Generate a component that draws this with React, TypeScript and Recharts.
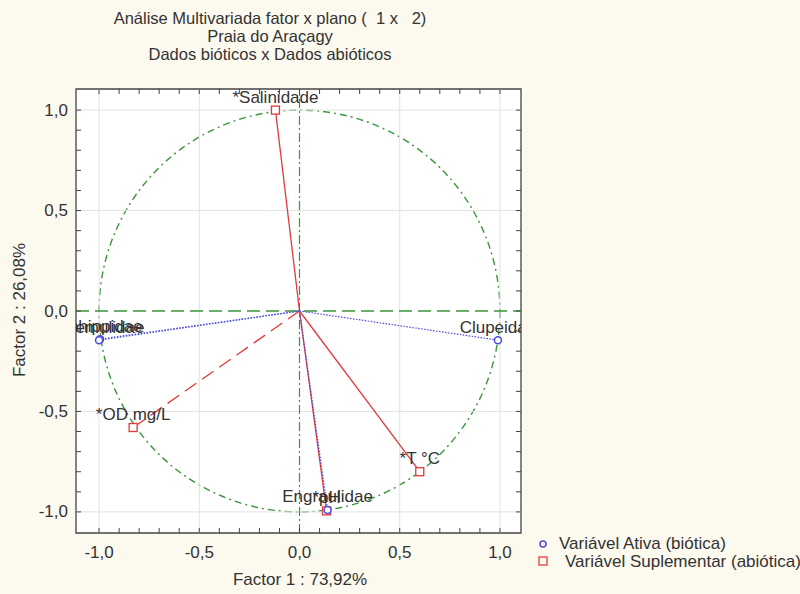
import React from 'react'
import { ScatterChart, Scatter, XAxis, YAxis, ReferenceLine, ReferenceArea, CartesianGrid } from 'recharts'

// active (biotic) variables: factor coordinates
const ACTIVE_NAMES = ['Ephippidae', 'Haemulidae', 'Clupeidae', 'Engraulidae']
const ACTIVE_F1 = [-0.995, -1.0, 0.99, 0.14]
const ACTIVE_F2 = [-0.14, -0.145, -0.145, -0.99]

// supplementary (abiotic) variables
const SUPP_NAMES = ['*Salinidade', '*OD mg/L', '*T °C', '*pH']
const SUPP_F1 = [-0.12, -0.83, 0.6, 0.135]
const SUPP_F2 = [1.0, -0.58, -0.8, -0.995]
const SUPP_DASHED = [false, true, false, false]

const X_TICKS = [-1.0, -0.9, -0.8, -0.7, -0.6, -0.5, -0.4, -0.3, -0.2, -0.1, 0.0, 0.1, 0.2, 0.3, 0.4, 0.5, 0.6, 0.7, 0.8, 0.9, 1.0]
const Y_TICKS = [-1.0, -0.9, -0.8, -0.7, -0.6, -0.5, -0.4, -0.3, -0.2, -0.1, 0.0, 0.1, 0.2, 0.3, 0.4, 0.5, 0.6, 0.7, 0.8, 0.9, 1.0]
const GRID_VALUES = [-1.0, -0.5, 0.5, 1.0]

const X_DOMAIN: [number, number] = [-1.115, 1.105]
const Y_DOMAIN: [number, number] = [-1.105, 1.105]

const TITLE = ['Análise Multivariada fator x plano (  1 x   2)', 'Praia do Araçagy', 'Dados bióticos x Dados abióticos']

// layout
const W = 800, H = 594
const PLOT_L = 76, PLOT_T = 89, PLOT_R = 521, PLOT_B = 533
const PLOT_W = PLOT_R - PLOT_L, PLOT_H = PLOT_B - PLOT_T

const CREAM = '#fcf9ee'
const TEXT = '#333'
const GREEN = '#3a963a'
const BLUE = '#4b4bdc'
const RED = '#e23a3a'
const FONT = '"Liberation Sans", Arial, sans-serif'

const fmt = (v: number) => v.toFixed(1).replace('.', ',')
const isMajor = (v: number) => Math.abs(v * 2 - Math.round(v * 2)) < 1e-6

// ticks point inward on all four sides, labels only every 0.5
function XTick(props: any) {
  const { payload } = props
  const x = payload.coordinate
  const v = payload.value
  return (
    <g>
      <line x1={x} x2={x} y1={PLOT_B} y2={PLOT_B - 5} stroke="#444" />
      <line x1={x} x2={x} y1={PLOT_T} y2={PLOT_T + 5} stroke="#444" />
      {isMajor(v) && (
        <text x={x} y={PLOT_B + 19} textAnchor="middle" dominantBaseline="central" fontSize={17} fontFamily={FONT} fill={TEXT}>{fmt(v)}</text>
      )}
    </g>
  )
}

function YTick(props: any) {
  const { payload } = props
  const y = payload.coordinate
  const v = payload.value
  return (
    <g>
      <line x1={PLOT_L} x2={PLOT_L + 5} y1={y} y2={y} stroke="#444" />
      <line x1={PLOT_R} x2={PLOT_R - 5} y1={y} y2={y} stroke="#444" />
      {isMajor(v) && (
        <text x={PLOT_L - 8} y={y} textAnchor="end" dominantBaseline="central" fontSize={17} fontFamily={FONT} fill={TEXT}>{fmt(v)}</text>
      )}
    </g>
  )
}

function PointLabel({ cx, cy, name }: { cx: number, cy: number, name: string }) {
  const id = 'clip-' + name.replace(/[^a-zA-Z]/g, '')
  return (
    <g>
      <defs>
        <clipPath id={id}><rect x={PLOT_L} y={PLOT_T} width={PLOT_W} height={PLOT_H} /></clipPath>
      </defs>
      <text x={cx} y={cy - 13} textAnchor="middle" dominantBaseline="central" fontSize={17} fontFamily={FONT} fill={TEXT} clipPath={`url(#${id})`}>{name}</text>
    </g>
  )
}

const ActiveShape = (p: any) => (
  <g>
    <circle cx={p.cx} cy={p.cy} r={3.5} fill="#fff" stroke={BLUE} strokeWidth={1.5} />
    <PointLabel cx={p.cx} cy={p.cy} name={p.payload.name} />
  </g>
)

const SuppShape = (p: any) => (
  <g>
    <rect x={p.cx - 4} y={p.cy - 4} width={8} height={8} fill="#fff" stroke={RED} strokeWidth={1.3} />
    <PointLabel cx={p.cx} cy={p.cy} name={p.payload.name} />
  </g>
)

const CircleShape = (p: any) => (
  <ellipse cx={p.x + p.width / 2} cy={p.y + p.height / 2} rx={p.width / 2} ry={p.height / 2}
    fill="none" stroke={GREEN} strokeWidth={1.4} strokeDasharray="7 4 2 4" />
)

export default function App() {
  const active = ACTIVE_NAMES.map((name, i) => ({ name, x: ACTIVE_F1[i], y: ACTIVE_F2[i] }))
  const supp = SUPP_NAMES.map((name, i) => ({ name, x: SUPP_F1[i], y: SUPP_F2[i], dashed: SUPP_DASHED[i] }))

  return (
    <div style={{ position: 'fixed', left: 0, top: 0, width: W, height: H, background: CREAM, overflow: 'hidden', fontFamily: FONT, color: TEXT }}>
      <div style={{ position: 'absolute', left: 0, top: 0 }}>
        <ScatterChart width={W} height={H} margin={{ top: PLOT_T, right: W - PLOT_R, bottom: 0, left: 0 }}>
          <CartesianGrid horizontal={false} vertical={false} fill="#fff" />
          <XAxis type="number" dataKey="x" domain={X_DOMAIN} ticks={X_TICKS} interval={0} tick={XTick}
            tickLine={false} axisLine={false} tickSize={0} tickMargin={0} height={H - PLOT_B} allowDataOverflow />
          <YAxis type="number" dataKey="y" domain={Y_DOMAIN} ticks={Y_TICKS} interval={0} tick={YTick}
            tickLine={false} axisLine={false} tickSize={0} tickMargin={0} width={PLOT_L} allowDataOverflow />
          {GRID_VALUES.map(v => <ReferenceLine key={'gx' + v} x={v} stroke="#e2e2e2" />)}
          {GRID_VALUES.map(v => <ReferenceLine key={'gy' + v} y={v} stroke="#e2e2e2" />)}
          <ReferenceArea x1={-1} x2={1} y1={-1} y2={1} shape={CircleShape} />
          <ReferenceLine y={0} stroke={GREEN} strokeWidth={1.4} strokeDasharray="13 6" />
          <ReferenceLine x={0} stroke={GREEN} strokeWidth={1.2} strokeDasharray="9 3 2 3" />
          {supp.map(d => (
            <ReferenceLine key={'s' + d.name} segment={[{ x: 0, y: 0 }, { x: d.x, y: d.y }]} stroke={RED}
              strokeWidth={1.3} strokeDasharray={d.dashed ? '14 7' : undefined} />
          ))}
          {active.map(d => (
            <ReferenceLine key={'a' + d.name} segment={[{ x: 0, y: 0 }, { x: d.x, y: d.y }]} stroke={BLUE}
              strokeWidth={1.2} strokeDasharray="1.5 1.5" />
          ))}
          <Scatter data={supp} shape={SuppShape} isAnimationActive={false} />
          <Scatter data={active} shape={ActiveShape} isAnimationActive={false} />
          <ReferenceArea x1={X_DOMAIN[0]} x2={X_DOMAIN[1]} y1={Y_DOMAIN[0]} y2={Y_DOMAIN[1]} fill="none" fillOpacity={0} stroke="#444" strokeWidth={1.3} />
        </ScatterChart>
      </div>

      {TITLE.map((t, i) => (
        <div key={t} style={{ position: 'absolute', left: 0, width: 540, top: 9 + i * 18, lineHeight: '18px', fontSize: 16.5, textAlign: 'center', whiteSpace: 'pre' }}>{t}</div>
      ))}

      <div style={{ position: 'absolute', left: 150, width: 300, top: 570, lineHeight: '20px', fontSize: 17, textAlign: 'center' }}>Factor 1 : 73,92%</div>
      <div style={{ position: 'absolute', left: 20 - 100, top: 310 - 10, width: 200, lineHeight: '20px', fontSize: 17, textAlign: 'center', transform: 'rotate(-90deg)' }}>Factor 2 : 26,08%</div>

      <div style={{ position: 'absolute', left: 537, top: 534, fontSize: 17, lineHeight: '17px', whiteSpace: 'nowrap' }}>
        <div style={{ display: 'flex', alignItems: 'center', height: 19 }}>
          <svg width={12} height={12}><circle cx={6} cy={6} r={3} fill="none" stroke={BLUE} strokeWidth={1.5} /></svg>
          <span style={{ marginLeft: 10 }}>Variável Ativa (biótica)</span>
        </div>
        <div style={{ display: 'flex', alignItems: 'center', height: 16 }}>
          <svg width={12} height={12}><rect x={2} y={2} width={8} height={8} fill="none" stroke={RED} strokeWidth={1.3} /></svg>
          <span style={{ marginLeft: 16 }}>Variável Suplementar (abiótica)</span>
        </div>
      </div>
    </div>
  )
}
